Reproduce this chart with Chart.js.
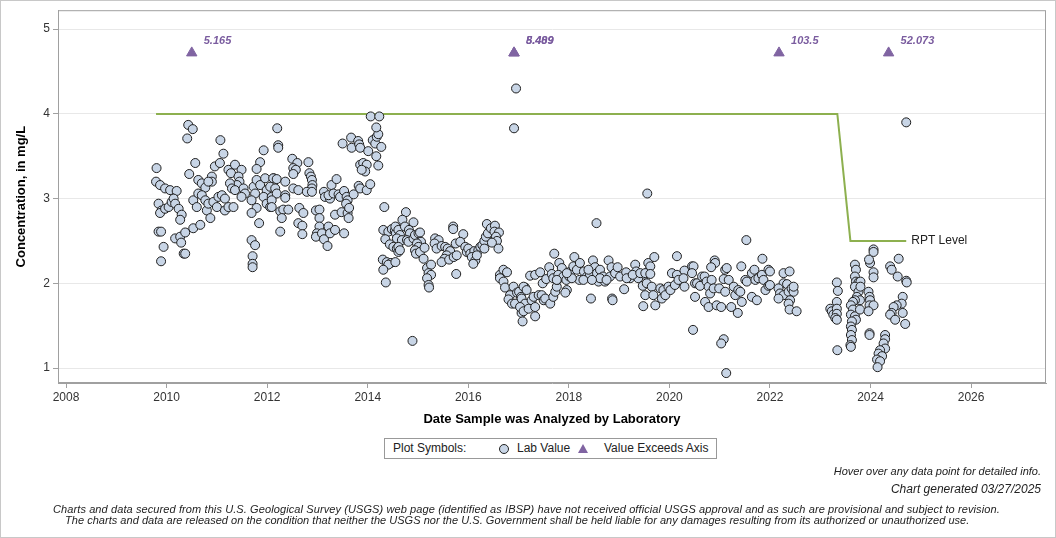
<!DOCTYPE html>
<html><head><meta charset="utf-8">
<script src="https://cdn.jsdelivr.net/npm/chart.js@4/dist/chart.umd.min.js"></script>
<style>
html,body{margin:0;padding:0;background:#fff;}
#wrap{position:relative;width:1056px;height:538px;overflow:hidden;font-family:"Liberation Sans",Arial,sans-serif;color:#222;}
#border{position:absolute;left:0;top:0;width:1054px;height:536px;border:1px solid #c8c8c8;pointer-events:none;}
canvas{position:absolute;left:0;top:0;}
.legend{position:absolute;left:384px;top:438px;width:331px;height:19px;border:1px solid #999;font-size:12px;line-height:19px;background:#fff;}
.legend span{position:absolute;top:0;white-space:nowrap;}
.lg-circle{position:absolute;left:114px;top:5px;width:8px;height:8px;border-radius:50%;background:#c8d5e6;border:1px solid #222;}
.lg-tri{position:absolute;left:193px;top:5px;width:0;height:0;border-left:5px solid transparent;border-right:5px solid transparent;border-bottom:9px solid #8064a2;}
.note{position:absolute;right:15px;font-style:italic;white-space:nowrap;color:#222;}
.disc{position:absolute;font-size:11px;font-style:italic;white-space:nowrap;color:#222;}
</style>
</head><body>
<div id="wrap">
<canvas id="c" width="1056" height="538"></canvas>
<div class="legend">
  <span style="left:8px">Plot Symbols:</span>
  <div class="lg-circle"></div>
  <span style="left:132px">Lab Value</span>
  <div class="lg-tri"></div>
  <span style="left:219px">Value Exceeds Axis</span>
</div>
<div class="note" style="top:465px;font-size:11px">Hover over any data point for detailed info.</div>
<div class="note" style="top:482px;font-size:12px">Chart generated 03/27/2025</div>
<div class="disc" style="left:53px;top:503px;letter-spacing:0.1px">Charts and data secured from this U.S. Geological Survey (USGS) web page (identified as IBSP) have not received official USGS approval and as such are provisional and subject to revision.</div>
<div class="disc" style="left:65px;top:514px;letter-spacing:0.03px">The charts and data are released on the condition that neither the USGS nor the U.S. Government shall be held liable for any damages resulting from its authorized or unauthorized use.</div>
<div id="border"></div>
</div>
<script>
// ---- DATA: [decimal year, concentration mg/L] ----
const lab2009to2012 = [
[2010.43,3.87],[2010.52,3.82],[2010.41,3.71],[2011.07,3.69],[2011.13,3.53],[2011.93,3.57],[2011.86,3.43],[2011.79,3.35],
[2010.57,3.42],[2009.80,3.36],[2010.45,3.29],[2010.96,3.38],[2011.06,3.42],[2011.23,3.34],[2011.36,3.40],[2011.49,3.34],
[2011.28,3.30],[2011.43,3.26],[2011.45,3.20],[2011.40,3.16],[2010.63,3.22],[2010.70,3.18],[2010.77,3.13],[2010.90,3.26],
[2010.90,3.20],[2010.83,3.20],[2009.79,3.20],[2009.87,3.16],[2009.97,3.12],[2010.07,3.10],[2010.20,3.09],[2009.84,2.94],
[2009.90,2.86],[2009.87,2.83],[2009.97,2.88],[2010.04,2.90],[2010.10,2.96],[2010.14,3.00],[2010.17,2.94],[2010.24,2.88],
[2010.30,2.81],[2010.27,2.75],[2010.53,2.98],[2010.60,2.90],[2010.63,3.06],[2010.70,3.04],[2010.77,2.98],[2010.80,2.86],
[2010.87,2.77],[2010.83,2.94],[2010.93,2.96],[2011.00,2.90],[2011.03,3.02],[2011.10,3.04],[2011.16,3.00],[2011.16,2.86],
[2011.23,2.90],[2011.33,2.90],[2011.26,3.18],[2011.30,3.12],[2011.36,3.10],[2011.53,3.12],[2011.56,3.06],[2011.49,3.02],
[2011.73,3.14],[2011.79,3.22],[2011.86,3.16],[2011.96,3.24],[2012.13,3.24],[2011.99,3.10],[2011.76,3.06],[2011.69,2.98],
[2011.79,2.89],[2011.69,2.83],[2011.84,2.71],[2011.93,3.02],[2011.99,2.94],[2012.06,2.90],[2012.09,3.02],[2009.84,2.61],
[2009.89,2.61],[2009.94,2.43],[2009.89,2.26],[2010.17,2.53],[2010.27,2.55],[2010.29,2.48],[2010.37,2.60],[2010.53,2.65],
[2010.67,2.69],[2010.34,2.35],[2010.37,2.35],[2011.69,2.51],[2011.76,2.45],[2011.71,2.32],[2011.71,2.23],[2011.71,2.19]
];
const lab2012to2014 = [
[2012.20,3.83],[2012.22,3.63],[2012.22,3.60],[2012.50,3.47],[2012.60,3.42],[2012.52,3.36],[2012.57,3.34],[2012.52,3.29],
[2012.82,3.43],[2012.84,3.30],[2012.87,3.26],[2012.89,3.22],[2012.90,3.16],[2012.89,3.12],[2012.12,3.24],[2012.19,3.23],
[2012.36,3.20],[2012.06,3.14],[2012.16,3.12],[2012.19,3.06],[2012.36,3.04],[2012.36,3.01],[2012.09,2.98],[2012.09,2.90],
[2012.52,3.12],[2012.62,3.10],[2012.79,3.08],[2012.89,3.08],[2012.26,2.85],[2012.32,2.87],[2012.42,2.87],[2012.29,2.77],
[2012.26,2.61],[2012.64,2.89],[2012.72,2.83],[2012.62,2.71],[2012.70,2.68],[2012.70,2.58],[2012.97,2.86],[2013.04,2.87],
[2013.04,2.77],[2013.04,2.67],[2012.99,2.59],[2012.97,2.55],[2013.09,2.59],[2013.13,2.52],[2013.20,2.44],[2013.22,2.67],
[2013.25,2.59],[2013.35,2.63],[2013.53,2.59],[2013.13,3.08],[2013.15,3.02],[2013.25,3.00],[2013.28,3.16],[2013.38,3.23],
[2013.22,3.04],[2013.32,3.06],[2013.42,3.05],[2013.45,3.02],[2013.53,3.09],[2013.58,3.02],[2013.60,2.98],[2013.57,2.94],
[2013.72,3.05],[2013.82,3.15],[2013.85,3.12],[2013.98,3.10],[2014.05,3.17],[2013.35,2.81],[2013.48,2.84],[2013.60,2.83],
[2013.62,2.77],[2013.63,2.89],[2013.50,3.65],[2013.67,3.72],[2013.68,3.60],[2013.81,3.68],[2013.83,3.64],[2013.85,3.60],
[2014.01,3.56],[2014.10,3.69],[2014.15,3.65],[2014.18,3.73],[2014.21,3.76],[2014.27,3.61],[2014.17,3.84],[2014.17,3.50],
[2014.21,3.39],[2014.06,3.97],[2014.23,3.97],[2013.85,3.40],[2013.91,3.42],[2013.98,3.40],[2013.95,3.32],[2013.88,3.34],
[2014.33,2.90],[2014.31,2.63],[2014.41,2.61],[2014.48,2.64],[2014.54,2.62],[2014.59,2.65],[2014.56,2.59],[2014.61,2.54],
[2014.35,2.52],[2014.44,2.46],[2014.51,2.43],[2014.58,2.41],[2014.61,2.37],[2014.30,2.28],[2014.38,2.25],[2014.46,2.24],
[2014.41,2.22],[2014.31,2.16],[2014.36,2.01]
];
const lab2014to2017 = [
[2014.55,2.67],[2014.61,2.63],[2014.64,2.57],[2014.58,2.53],[2014.68,2.51],[2014.61,2.43],[2014.64,2.39],[2014.55,2.25],
[2014.76,2.84],[2014.69,2.75],[2014.91,2.72],[2014.74,2.67],[2014.82,2.63],[2014.84,2.59],[2014.78,2.51],[2014.81,2.49],
[2014.91,2.53],[2014.94,2.57],[2015.01,2.59],[2015.04,2.60],[2015.06,2.49],[2014.98,2.47],[2015.01,2.43],[2014.94,2.39],
[2014.96,2.35],[2015.04,2.37],[2015.13,2.42],[2015.11,2.29],[2015.18,2.18],[2015.26,2.22],[2015.21,2.12],[2015.26,2.10],
[2015.18,2.06],[2015.21,1.98],[2015.22,1.95],[2014.89,1.32],[2015.70,2.67],[2015.70,2.64],[2015.90,2.58],[2015.34,2.53],
[2015.41,2.51],[2015.33,2.47],[2015.37,2.41],[2015.47,2.44],[2015.54,2.43],[2015.59,2.41],[2015.64,2.38],[2015.57,2.33],
[2015.53,2.29],[2015.47,2.25],[2015.62,2.28],[2015.71,2.31],[2015.77,2.33],[2015.75,2.47],[2015.84,2.49],[2015.94,2.43],
[2015.97,2.37],[2016.00,2.41],[2016.04,2.35],[2016.12,2.38],[2016.07,2.31],[2016.14,2.27],[2016.10,2.23],[2016.20,2.39],
[2016.24,2.43],[2016.28,2.45],[2016.32,2.50],[2016.35,2.55],[2016.39,2.59],[2016.37,2.70],[2016.45,2.65],[2016.53,2.68],
[2016.52,2.61],[2016.61,2.60],[2016.55,2.55],[2016.57,2.50],[2016.47,2.48],[2016.60,2.41],[2016.32,2.41],[2016.17,2.33],
[2015.76,2.11],[2016.63,2.10],[2016.70,2.16],[2016.77,2.13],[2016.63,2.06],[2016.70,2.02],[2016.73,1.95],[2016.90,1.96],
[2016.83,1.86],[2016.80,1.81],[2016.97,1.89],[2017.01,1.90],[2016.87,1.76],[2016.93,1.76],[2017.05,1.84],[2017.10,1.76],
[2017.06,1.65],[2017.08,1.55],[2017.13,1.95],[2016.91,3.83],[2016.95,4.30]
];
const lab2017to2019 = [
[2017.10,1.96],[2017.16,1.92],[2017.06,1.82],[2017.13,1.76],[2017.03,1.72],[2017.10,1.67],[2017.20,1.70],[2017.26,1.80],
[2017.30,1.84],[2017.33,1.72],[2017.33,1.61],[2017.40,1.86],[2017.46,1.86],[2017.50,1.80],[2017.53,1.82],[2017.63,1.76],
[2017.69,1.84],[2017.73,1.90],[2017.76,1.96],[2017.77,2.04],[2017.96,1.92],[2017.93,1.89],[2017.23,2.09],[2017.33,2.10],
[2017.43,2.13],[2017.48,2.00],[2017.61,2.19],[2017.55,2.05],[2017.66,2.11],[2017.69,2.06],[2017.71,2.35],[2017.81,2.24],
[2017.86,2.18],[2017.79,2.10],[2017.89,2.08],[2017.95,2.04],[2018.01,2.08],[2018.03,2.14],[2018.09,2.20],[2018.11,2.31],
[2018.16,2.16],[2018.22,2.24],[2018.21,2.04],[2018.30,2.14],[2018.36,2.08],[2018.42,2.10],[2018.48,2.27],[2018.52,2.19],
[2018.56,2.12],[2018.59,2.02],[2018.62,2.16],[2018.68,2.08],[2018.72,2.02],[2018.79,2.27],[2018.82,2.08],[2018.85,2.19],
[2018.92,2.12],[2018.97,2.19],[2019.02,2.08],[2019.10,1.93],[2019.14,2.13],[2019.22,2.06],[2019.32,2.22],[2019.34,2.14],
[2019.38,2.06],[2019.47,1.97],[2019.52,2.10],[2019.58,2.24],[2019.58,2.14],[2019.48,1.73],[2018.44,1.82],[2018.86,1.82],
[2018.87,1.80],[2018.55,2.71],[2019.56,3.06],[2018.06,2.06],[2018.39,2.16],[2018.62,2.06],[2018.75,2.04],[2019.15,2.06],
[2019.27,2.10],[2019.42,2.12],[2018.29,2.04],[2018.46,2.04],[2017.96,2.12],[2017.76,2.04]
];
const lab2019to2022 = [
[2019.62,2.20],[2019.70,2.31],[2019.52,2.12],[2019.62,2.11],[2019.55,2.00],[2019.65,1.96],[2019.52,1.86],[2019.68,1.86],
[2019.72,1.74],[2019.82,1.94],[2019.88,1.92],[2019.85,1.82],[2019.92,1.86],[2019.98,1.96],[2020.02,1.92],[2020.11,1.98],
[2020.05,2.12],[2020.15,2.10],[2020.18,2.04],[2020.30,2.15],[2020.28,2.06],[2020.30,1.96],[2020.45,2.20],[2020.48,2.20],
[2020.45,2.12],[2020.51,2.00],[2020.55,2.00],[2020.51,1.84],[2020.61,1.97],[2020.65,2.08],[2020.70,2.08],[2020.74,2.02],
[2020.78,1.96],[2020.71,1.78],[2020.78,1.72],[2020.81,1.88],[2020.84,2.04],[2020.88,1.94],[2020.90,2.27],[2020.91,2.24],
[2020.83,2.19],[2020.94,1.74],[2020.99,1.94],[2021.03,1.72],[2021.08,2.05],[2021.11,2.16],[2021.14,2.18],[2021.11,1.90],
[2021.18,2.04],[2021.23,1.72],[2021.28,1.96],[2021.31,1.86],[2021.36,1.65],[2021.37,1.92],[2021.44,1.78],[2021.41,1.90],
[2021.43,2.20],[2021.51,2.04],[2021.54,2.02],[2021.64,2.12],[2021.69,2.16],[2021.71,2.04],[2021.64,1.84],[2021.74,1.80],
[2021.77,2.06],[2021.84,2.10],[2021.85,2.29],[2021.87,2.04],[2021.91,1.92],[2021.97,2.16],[2021.97,1.97],[2021.53,2.51],
[2020.15,2.32],[2020.47,1.45],[2021.08,1.34],[2021.03,1.29],[2021.13,0.94]
];
const lab2022to2025 = [
[2024.71,3.90],[2022.00,2.14],[2022.00,1.98],[2022.27,2.12],[2022.39,2.14],[2022.27,2.00],[2022.34,1.99],[2022.17,1.94],
[2022.20,1.88],[2022.27,1.86],[2022.17,1.82],[2022.37,1.90],[2022.43,1.94],[2022.47,1.90],[2022.40,1.80],[2022.37,1.76],
[2022.39,1.69],[2022.53,1.67],[2022.47,1.96],[2023.33,2.01],[2023.35,1.91],[2023.20,1.70],[2023.23,1.67],[2023.26,1.63],
[2023.33,1.78],[2023.33,1.70],[2023.33,1.64],[2023.30,1.59],[2023.33,1.57],[2023.34,1.21],[2023.69,2.22],[2023.71,2.16],
[2023.69,2.08],[2023.71,2.02],[2023.76,2.01],[2023.80,2.02],[2023.69,1.96],[2023.76,1.90],[2023.73,1.84],[2023.79,1.80],
[2023.69,1.80],[2023.65,1.78],[2023.61,1.74],[2023.65,1.69],[2023.61,1.63],[2023.69,1.61],[2023.71,1.57],[2023.63,1.55],
[2023.61,1.49],[2023.63,1.45],[2023.61,1.39],[2023.63,1.33],[2023.60,1.27],[2023.61,1.25],[2023.79,1.69],[2023.80,1.96],
[2023.96,1.90],[2023.98,1.84],[2023.99,1.80],[2023.98,1.74],[2024.06,1.74],[2023.96,1.67],[2023.99,2.24],[2023.97,2.28],
[2024.06,2.40],[2024.06,2.37],[2024.06,2.13],[2024.06,2.07],[2023.98,1.41],[2023.98,1.39],[2024.29,1.39],[2024.29,1.34],
[2024.26,1.29],[2024.29,1.23],[2024.19,1.21],[2024.16,1.17],[2024.23,1.14],[2024.13,1.10],[2024.19,1.08],[2024.14,1.01],
[2024.39,2.20],[2024.42,2.16],[2024.56,2.29],[2024.54,2.08],[2024.71,2.03],[2024.72,2.01],[2024.64,1.84],[2024.62,1.76],
[2024.64,1.65],[2024.52,1.74],[2024.46,1.72],[2024.42,1.65],[2024.39,1.63],[2024.49,1.57],[2024.69,1.52]
];
// values above the axis top, shown as triangles at the top with their value
const exceedDates  = [2010.50, 2016.91, 2016.91, 2022.18, 2024.36];
const exceedLabels = ['5.165', '5.409', '8.489', '103.5', '52.073'];
const exceedPlotValue = 4.72;
// reporting level line
const rptDates  = [2009.79, 2023.34, 2023.60, 2024.71];
const rptValues = [4, 4, 2.5, 2.5];
const rptLabel = 'RPT Level';
// axes
const xTicks = [2008, 2010, 2012, 2014, 2016, 2018, 2020, 2022, 2024, 2026];
const yTicks = [1, 2, 3, 4, 5];
const xRange = [2007.84, 2027.49];
const yRange = [0.823, 5.224];

const labPoints = [].concat(lab2009to2012, lab2012to2014, lab2014to2017, lab2017to2019, lab2019to2022, lab2022to2025);

Chart.defaults.font.family = '"Liberation Sans", Arial, sans-serif';

const overlayPlugin = {
  id: 'overlay',
  beforeDatasetsDraw(chart) {
    const {ctx, chartArea: a} = chart;
    ctx.save();
    ctx.strokeStyle = '#a0a0a0';
    ctx.lineWidth = 1;
    ctx.strokeRect(a.left + 0.5, a.top + 0.5, a.right - a.left - 1, a.bottom - a.top - 1);
    ctx.restore();
  },
  afterDatasetsDraw(chart) {
    const {ctx} = chart;
    ctx.save();
    const triMeta = chart.getDatasetMeta(1);
    ctx.font = 'bold italic 11px "Liberation Sans", Arial, sans-serif';
    ctx.fillStyle = '#7a5c9f';
    ctx.textBaseline = 'middle';
    ctx.textAlign = 'left';
    triMeta.data.forEach((pt, i) => {
      ctx.fillText(exceedLabels[i], pt.x + 12, pt.y - 12);
    });
    const lineMeta = chart.getDatasetMeta(2);
    const last = lineMeta.data[lineMeta.data.length - 1];
    ctx.font = '12px "Liberation Sans", Arial, sans-serif';
    ctx.fillStyle = '#222';
    ctx.fillText(rptLabel, last.x + 5, last.y);
    ctx.restore();
  }
};

new Chart(document.getElementById('c'), {
  type: 'scatter',
  data: {
    datasets: [
      {
        label: 'Lab Value',
        data: labPoints.map(p => ({x: p[0], y: p[1]})),
        pointRadius: 4.5,
        pointBackgroundColor: '#c8d5e6',
        pointBorderColor: '#1e1e1e',
        pointBorderWidth: 1,
        order: 1
      },
      {
        label: 'Value Exceeds Axis',
        data: exceedDates.map(d => ({x: d, y: exceedPlotValue})),
        pointStyle: 'triangle',
        pointRadius: 6,
        pointBackgroundColor: '#8064a2',
        pointBorderColor: '#8064a2',
        pointBorderWidth: 1,
        order: 0
      },
      {
        type: 'line',
        label: rptLabel,
        data: rptDates.map((d, i) => ({x: d, y: rptValues[i]})),
        borderColor: '#8db04f',
        borderWidth: 2,
        pointRadius: 0,
        showLine: true,
        fill: false,
        tension: 0,
        order: 2
      }
    ]
  },
  options: {
    responsive: false,
    animation: false,
    devicePixelRatio: 1,
    events: [],
    layout: {padding: {top: 10, right: 10, left: 0, bottom: 0}},
    plugins: {legend: {display: false}, tooltip: {enabled: false}},
    scales: {
      x: {
        type: 'linear',
        min: xRange[0], max: xRange[1],
        afterBuildTicks: s => { s.ticks = xTicks.map(v => ({value: v})); },
        afterFit: s => { s.height = 155; },
        grid: {drawOnChartArea: false, drawTicks: true, tickLength: 5, tickColor: '#a0a0a0'},
        border: {color: '#a0a0a0'},
        ticks: {callback: v => String(v), color: '#333', font: {size: 12}, padding: 2, maxRotation: 0, autoSkip: false},
        title: {display: true, text: 'Date Sample was Analyzed by Laboratory', color: '#000',
                font: {size: 13, weight: 'bold'}, padding: {top: 0, bottom: 111}}
      },
      y: {
        type: 'linear',
        min: yRange[0], max: yRange[1],
        afterBuildTicks: s => { s.ticks = yTicks.map(v => ({value: v})); },
        afterFit: s => { s.width = 58; },
        grid: {color: '#e8e8e8', drawTicks: true, tickLength: 5, tickColor: '#a0a0a0'},
        border: {color: '#a0a0a0'},
        ticks: {callback: v => String(v), color: '#333', font: {size: 12}, padding: 3, autoSkip: false},
        title: {display: true, text: 'Concentration, in mg/L', color: '#000',
                font: {size: 13, weight: 'bold'}, padding: {top: 14, bottom: 0}}
      }
    }
  },
  plugins: [overlayPlugin]
});
</script>
</body></html>
